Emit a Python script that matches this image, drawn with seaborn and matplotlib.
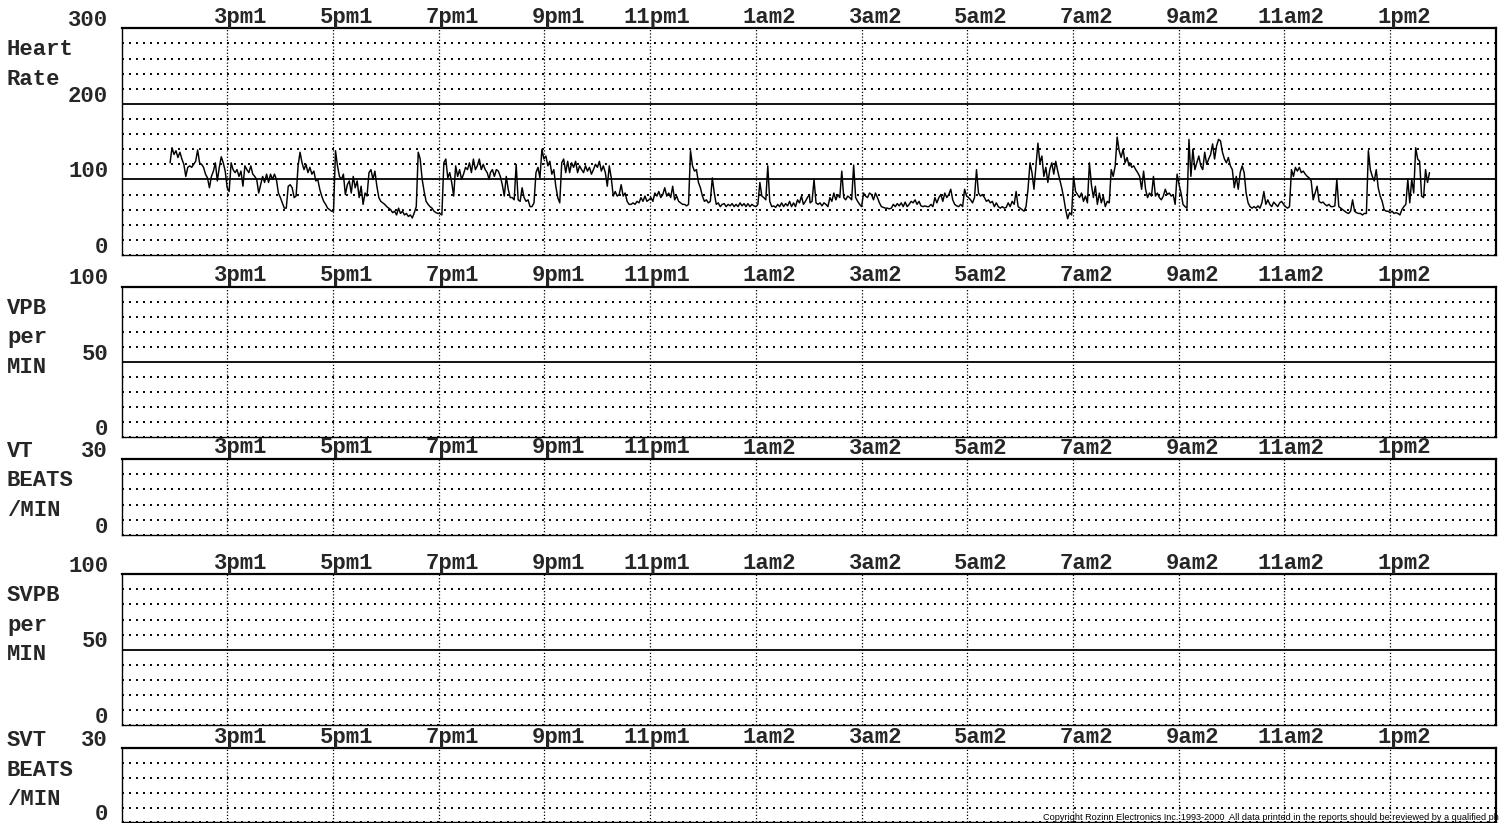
"""Holter trend report: heart rate, VPB, VT, SVPB and SVT per minute over 26 hours."""

import matplotlib.pyplot as plt
import matplotlib.ticker as mticker
import numpy as np
import seaborn as sns

# ── Data ──────────────────────────────────────────────────────────
# hours counted from 1pm on day 1
tick_hours = [2, 4, 6, 8, 10, 12, 14, 16, 18, 20, 22, 24]
tick_labels = ["3pm1", "5pm1", "7pm1", "9pm1", "11pm1", "1am2",
               "3am2", "5am2", "7am2", "9am2", "11am2", "1pm2"]

# heart rate (bpm), read in four pieces, each sampled evenly over its span
hr_spans = [(0.915, 6.953), (6.977, 13.013), (13.026, 19.062), (19.076, 24.747)]
hr_a = [122, 142, 133, 138, 129, 136, 127, 120, 104, 116, 118, 116, 120, 124, 139, 122,
        120, 116, 107, 102, 89, 104, 111, 122, 98, 116, 130, 122, 111, 89, 84, 122,
        113, 109, 113, 104, 111, 91, 118, 113, 109, 118, 107, 104, 100, 82, 93, 104,
        96, 107, 96, 107, 100, 107, 100, 82, 76, 69, 62, 62, 91, 93, 89, 76, 78, 118,
        136, 122, 113, 120, 109, 116, 107, 111, 98, 100, 87, 78, 71, 67, 62, 60, 58, 58,
        138, 118, 104, 100, 107, 80, 93, 98, 82, 104, 89, 98, 76, 91, 67, 82, 78, 109,
        113, 100, 111, 91, 76, 71, 69, 67, 64, 62, 60, 56, 58, 53, 62, 55, 58, 53, 55,
        51, 53, 49, 56, 64, 136, 127, 100, 84, 71, 67, 64, 62, 58, 56, 55, 55, 53, 122,
        127, 102, 109, 96, 78, 118, 104, 113, 100, 107, 116, 113, 122, 109, 127, 113,
        118, 127, 113, 120, 113, 109, 100]
hr_b = [109, 113, 104, 113, 111, 104, 93, 78, 104, 87, 76, 76, 73, 120, 73, 71, 89, 76,
        71, 73, 64, 64, 69, 109, 116, 102, 140, 127, 131, 118, 124, 107, 113, 91, 76, 69,
        122, 127, 109, 124, 109, 122, 116, 124, 109, 118, 113, 109, 118, 111, 116, 107,
        113, 120, 116, 124, 111, 118, 109, 91, 118, 102, 78, 84, 78, 80, 93, 78, 82, 71,
        67, 67, 69, 67, 71, 69, 76, 71, 78, 71, 73, 76, 71, 82, 78, 84, 76, 80, 89, 78,
        82, 76, 91, 73, 78, 71, 69, 67, 67, 65, 67, 138, 118, 111, 113, 96, 89, 78, 71,
        73, 69, 71, 102, 82, 67, 69, 64, 67, 68, 64, 67, 65, 68, 64, 67, 64, 69, 65, 68,
        64, 68, 64, 67, 65, 64, 67, 96, 78, 76, 73, 118, 71, 64, 65, 63, 67, 64, 69, 64,
        68, 65, 71, 64, 69, 64, 73, 69, 78, 67, 71, 76, 80]
hr_c = [69, 71, 100, 69, 67, 69, 65, 69, 67, 64, 76, 71, 82, 73, 80, 76, 111, 76, 73, 78,
        76, 73, 119, 76, 71, 67, 64, 82, 78, 76, 82, 80, 73, 82, 76, 69, 64, 63, 62, 62,
        61, 62, 67, 64, 68, 65, 69, 64, 70, 64, 67, 71, 69, 73, 67, 71, 65, 64, 65, 64,
        64, 67, 64, 76, 69, 76, 80, 71, 82, 76, 80, 87, 73, 67, 65, 64, 67, 64, 87, 78,
        76, 73, 69, 76, 113, 82, 78, 80, 76, 71, 73, 69, 71, 64, 69, 64, 62, 64, 62, 63,
        69, 64, 71, 67, 84, 64, 62, 60, 58, 64, 87, 122, 109, 87, 118, 148, 122, 131, 104,
        116, 96, 113, 122, 107, 124, 111, 100, 89, 76, 60, 48, 56, 53, 104, 84, 80, 76,
        82, 71, 78, 69, 122, 93, 76, 91, 67, 82, 69, 78, 64, 71, 69, 113, 104, 118, 156,
        138, 129, 140, 122, 129, 118]
hr_d = [122, 116, 118, 113, 109, 104, 87, 111, 87, 76, 82, 78, 104, 78, 82, 76, 73, 78,
        87, 80, 82, 78, 80, 67, 107, 93, 82, 67, 64, 62, 153, 104, 140, 113, 122, 131,
        118, 113, 136, 120, 127, 133, 147, 127, 144, 153, 151, 136, 127, 122, 129, 118,
        113, 89, 104, 87, 109, 118, 109, 82, 69, 64, 62, 64, 62, 65, 62, 69, 84, 67, 73,
        67, 64, 70, 67, 64, 69, 71, 67, 64, 62, 64, 113, 104, 116, 111, 116, 109, 111,
        107, 104, 102, 98, 73, 82, 91, 71, 69, 70, 67, 65, 67, 64, 64, 65, 100, 64, 62,
        60, 58, 56, 55, 58, 73, 58, 56, 55, 55, 53, 55, 55, 138, 113, 104, 98, 113, 89,
        78, 71, 60, 58, 58, 56, 58, 55, 56, 55, 53, 60, 64, 67, 100, 69, 100, 82, 142,
        127, 124, 78, 76, 113, 96, 109]

# one entry per panel, top to bottom
panel_names = [["Heart", "Rate"], ["VPB", "per", "MIN"], ["VT", "BEATS", "/MIN"],
               ["SVPB", "per", "MIN"], ["SVT", "BEATS", "/MIN"]]
panel_ymax = [300, 100, 30, 100, 30]
panel_solid = [[100, 200], [50], [], [50], []]
panel_dot_step = [20, 10, 6, 10, 6]
panel_ylabels = [[0, 100, 200, 300], [0, 50, 100], [0, 30], [0, 50, 100], [0, 30]]

# the footer runs off the right edge of the page in the report
COPYRIGHT = ("Copyright Rozinn Electronics Inc. 1993-2000  All data printed in the "
             "reports should be reviewed by a qualified ph")

# ── Style / layout ────────────────────────────────────────────────
sns.set_theme(style="white")
plt.rcParams["font.family"] = ["Liberation Mono", "DejaVu Sans Mono"]
plt.rcParams["font.weight"] = "bold"

W, H, DPI = 1499, 823, 100
PT = 72 / DPI          # points per pixel
FS = 16
LEFT, RIGHT = 121.7, 1495.7
# (top, bottom) of each panel in pixels from the top
panel_px = [(28.3, 255.0), (286.7, 437.3), (459.0, 535.0), (574.3, 725.0), (748.3, 822.3)]

fig = plt.figure(figsize=(W / DPI, H / DPI), dpi=DPI, facecolor="white")

hr_hours = np.concatenate([np.linspace(a, b, len(v)) for (a, b), v in
                           zip(hr_spans, [hr_a, hr_b, hr_c, hr_d])])
hr_values = np.concatenate([hr_a, hr_b, hr_c, hr_d])

for i, (top, bot) in enumerate(panel_px):
    ax = fig.add_axes([LEFT / W, (H - bot) / H, (RIGHT - LEFT) / W, (bot - top) / H])

    if i == 0:
        sns.lineplot(x=hr_hours, y=hr_values, ax=ax, color="black", linewidth=1.05,
                     estimator=None, sort=False)
    ax.set_xlim(0, 26)
    ax.set_ylim(0, panel_ymax[i])
    ax.set_xlabel("")
    ax.set_ylabel("")

    # grid: dotted every step, solid at the reference levels, dotted hour lines
    ax.xaxis.set_major_locator(mticker.FixedLocator(tick_hours))
    ax.yaxis.set_major_locator(mticker.FixedLocator(panel_solid[i]))
    ax.yaxis.set_minor_locator(mticker.MultipleLocator(panel_dot_step[i]))
    ax.grid(which="major", axis="y", color="black", lw=1.3, ls="-")
    ax.grid(which="minor", axis="y", color="black", lw=1.4, ls=(0, (1, 2.6)))
    ax.grid(which="major", axis="x", color="black", lw=0.9, ls=(0, (1, 1.6)))
    ax.set_axisbelow(True)
    ax.tick_params(which="both", length=0, labelleft=False, labelbottom=False)
    for side, sp in ax.spines.items():
        sp.set_color("black")
        sp.set_linewidth(1.6 if side in ("top", "right") else 1.0)

    # time labels above each panel
    for h, lab in zip(tick_hours, tick_labels):
        ax.annotate(lab, xy=(h, 1), xycoords=ax.get_xaxis_transform(),
                    xytext=(40.5 * PT, 5.5 * PT), textcoords="offset points",
                    ha="right", va="baseline", fontsize=FS, fontweight="bold")

    # scale values sitting on their lines
    for v in panel_ylabels[i]:
        ax.annotate(str(v), xy=(0, v), xycoords=ax.get_yaxis_transform(),
                    xytext=(-13.5 * PT, 2.2 * PT), textcoords="offset points",
                    ha="right", va="baseline", fontsize=FS, fontweight="bold")

    # row title
    first = 27.0 if panel_ymax[i] > 30 else -2.0
    for k, word in enumerate(panel_names[i]):
        ax.annotate(word, xy=(0, 1), xycoords="axes fraction",
                    xytext=(-114.7 * PT, -(first + k * 29.5) * PT),
                    textcoords="offset points", ha="left", va="baseline",
                    fontsize=FS, fontweight="bold")

fig.text(1043 / W, 3 / H, COPYRIGHT, fontsize=6.6, family="Liberation Sans",
         fontweight="normal", ha="left", va="baseline", color="black")

fig.savefig("out.png", dpi=DPI)
